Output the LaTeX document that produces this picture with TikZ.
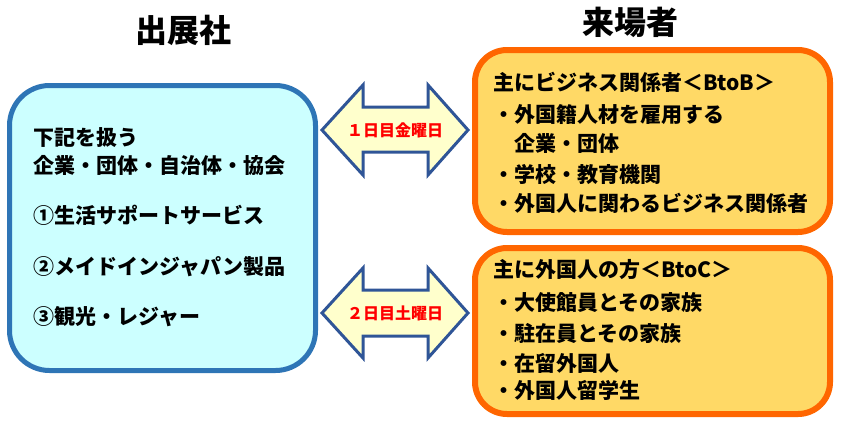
\documentclass[tikz,border=0pt]{standalone}
\usepackage{fontspec}
\setmainfont{Noto Sans CJK JP}
\usepackage{tikz}
\usetikzlibrary{positioning}

\definecolor{exhline}{HTML}{2E75B6}
\definecolor{exhfill}{HTML}{CCFFFF}
\definecolor{visline}{HTML}{FF6600}
\definecolor{visfill}{HTML}{FFD966}
\definecolor{arrline}{HTML}{2F5597}
\definecolor{arrfill}{HTML}{FFFFCC}

\begin{document}
\begin{tikzpicture}[
  x=1pt, y=-1pt,
  font=\bfseries\fontsize{21}{30}\selectfont,
  title/.style={font=\bfseries\fontsize{32}{36}\selectfont},
  exhbox/.style={draw=exhline, fill=exhfill, line width=5pt, rounded corners=40pt},
  visbox/.style={draw=visline, fill=visfill, line width=6pt, rounded corners=32pt},
  dblarr/.style={draw=arrline, fill=arrfill, line width=3pt, line join=miter},
  daylbl/.style={text=red, font=\bfseries\fontsize{16}{18}\selectfont},
  txt/.style={anchor=west, inner sep=0pt}
]
  \useasboundingbox (0,0) rectangle (841,424);

  % --- titles ---
  \node[title] (exhttl) at (183,30) {出展社};
  \node[title] (visttl) at (630,22) {来場者};

  % --- exhibitor box ---
  \node[exhbox, minimum width=306pt, minimum height=285pt] (exh) at (162.5,228) {};
  \node[txt] (exhhd1) at (33,138) {下記を扱う};
  \node[txt] (exhhd2) at (33,165) {企業・団体・自治体・協会};
  \node[txt] (it1) at (33,215) {①生活サポートサービス};
  \node[txt] (it2) at (33,267) {②メイドインジャパン製品};
  \node[txt] (it3) at (33,317) {③観光・レジャー};

  % --- visitor boxes ---
  \node[visbox, minimum width=355pt, minimum height=182pt] (btob) at (652.5,141) {};
  \node[txt] (btobhd) at (493,82) {主にビジネス関係者＜BtoB＞};
  \node[txt] (btob1) at (493,115) {・外国籍人材を雇用する};
  \node[txt] (btob1b) at (493,143) {　企業・団体};
  \node[txt] (btob2) at (493,175) {・学校・教育機関};
  \node[txt] (btob3) at (493,203) {・外国人に関わるビジネス関係者};

  \node[visbox, minimum width=355pt, minimum height=166pt] (btoc) at (652.5,331) {};
  \node[txt] (btochd) at (493,270) {主に外国人の方＜BtoC＞};
  \node[txt] (btoc1) at (493,303) {・大使館員とその家族};
  \node[txt] (btoc2) at (493,333) {・駐在員とその家族};
  \node[txt] (btoc3) at (493,363) {・在留外国人};
  \node[txt] (btoc4) at (493,390) {・外国人留学生};

  % --- day arrows ---
  \draw[dblarr] (322,130) -- (363,85) -- (363,107) -- (428,107) -- (428,85)
    -- (468,130) -- (428,175) -- (428,152) -- (363,152) -- (363,175) -- cycle;
  \node[daylbl] (day1) at (395,130) {１日目金曜日};

  \draw[dblarr] (322,313) -- (363,268) -- (363,290) -- (428,290) -- (428,268)
    -- (468,313) -- (428,358) -- (428,336) -- (363,336) -- (363,358) -- cycle;
  \node[daylbl] (day2) at (395,313) {２日目土曜日};
\end{tikzpicture}
\end{document}
